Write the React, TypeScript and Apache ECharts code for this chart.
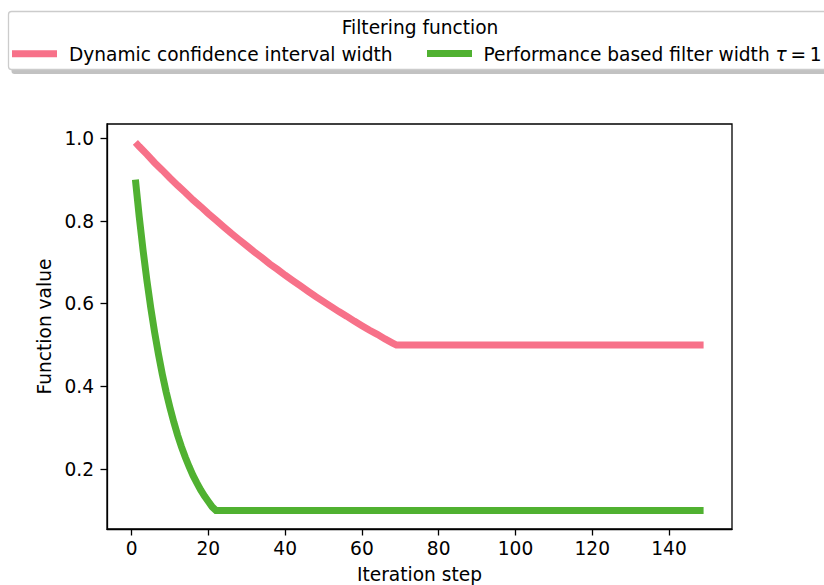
import React, { useEffect, useRef } from "react";
import * as echarts from "echarts";

const FONT = "DejaVu Sans";
const FS = 18.6;

const redX = [1, 2, 4, 6, 8, 10, 12, 14, 16, 18, 20, 22, 24, 26, 28, 30, 32, 34, 36, 38, 40, 42, 44, 46, 48, 50, 52, 54, 56, 58, 60, 62, 64, 66, 68, 69, 149];
const redY = [0.990, 0.980, 0.961, 0.941, 0.923, 0.904, 0.886, 0.869, 0.851, 0.835, 0.818, 0.802, 0.786, 0.770, 0.755, 0.740, 0.725, 0.711, 0.696, 0.683, 0.669, 0.656, 0.643, 0.630, 0.617, 0.605, 0.593, 0.581, 0.570, 0.558, 0.547, 0.536, 0.526, 0.515, 0.505, 0.500, 0.500];

const greenX = [1, 2, 3, 4, 5, 6, 7, 8, 9, 10, 11, 12, 13, 14, 15, 16, 17, 18, 19, 20, 21, 22, 149];
const greenY = [0.900, 0.810, 0.729, 0.656, 0.590, 0.531, 0.478, 0.430, 0.387, 0.349, 0.314, 0.282, 0.254, 0.229, 0.206, 0.185, 0.167, 0.150, 0.135, 0.122, 0.109, 0.100, 0.100];

const xTicks = [0, 20, 40, 60, 80, 100, 120, 140];
const yTicks = [0.2, 0.4, 0.6, 0.8, 1.0];

const seriesNames = ["Dynamic confidence interval width", "Performance based filter width"];
const legendTitle = "Filtering function";
const xName = "Iteration step";
const yName = "Function value";

const RED = "#f77189";
const GREEN = "#50b131";

export default function App() {
  const ref = useRef<HTMLDivElement>(null);
  useEffect(() => {
    if (!ref.current) return;
    const chart = echarts.init(ref.current, undefined, { renderer: "svg" });
    const zip = (xs: number[], ys: number[]) => xs.map((x, i) => [x, ys[i]]);
    chart.setOption({
      animation: false,
      textStyle: { fontFamily: FONT },
      grid: {
        left: 107,
        right: 92,
        top: 124,
        bottom: 56,
        containLabel: false,
        outerBoundsMode: "none",
        show: true,
        borderColor: "#000",
        borderWidth: 1.3,
        backgroundColor: "transparent",
      },
      xAxis: {
        type: "value",
        min: -6.4,
        max: 156.4,
        splitLine: { show: false },
        axisLine: { show: true, onZero: false, lineStyle: { color: "#000", width: 1.3 } },
        axisTick: { show: true, length: 6.5, customValues: xTicks, lineStyle: { color: "#000", width: 1.3 } },
        axisLabel: { customValues: xTicks, color: "#000", fontSize: FS, fontFamily: FONT, margin: 10 },
        name: xName,
        nameLocation: "middle",
        nameGap: 36,
        nameTextStyle: { color: "#000", fontSize: FS, fontFamily: FONT },
      },
      yAxis: {
        type: "value",
        min: 0.0555,
        max: 1.0345,
        splitLine: { show: false },
        axisLine: { show: true, onZero: false, lineStyle: { color: "#000", width: 1.3 } },
        axisTick: { show: true, length: 6.5, customValues: yTicks, lineStyle: { color: "#000", width: 1.3 } },
        axisLabel: {
          customValues: yTicks,
          color: "#000",
          fontSize: FS,
          fontFamily: FONT,
          margin: 13,
          formatter: (v: number) => v.toFixed(1),
        },
        name: yName,
        nameLocation: "middle",
        nameGap: 48,
        nameTextStyle: { color: "#000", fontSize: FS, fontFamily: FONT },
      },
      series: [
        {
          name: seriesNames[0],
          type: "line",
          data: zip(redX, redY),
          showSymbol: false,
          lineStyle: { color: RED, width: 7, cap: "butt", join: "miter" },
          itemStyle: { color: RED },
          z: 3,
        },
        {
          name: seriesNames[1],
          type: "line",
          data: zip(greenX, greenY),
          showSymbol: false,
          lineStyle: { color: GREEN, width: 7, cap: "butt", join: "miter" },
          itemStyle: { color: GREEN },
          z: 3,
        },
      ],
      graphic: [
        {
          type: "rect",
          shape: { x: 11.5, y: 15, width: 840, height: 59, r: 3 },
          style: { fill: "#999", opacity: 0.6 },
          z: 10,
        },
        {
          type: "rect",
          shape: { x: 8.5, y: 11.5, width: 840, height: 58, r: 3 },
          style: { fill: "#fff", stroke: "#cccccc", lineWidth: 1.3 },
          z: 11,
        },
        {
          type: "text",
          x: 420,
          y: 27,
          style: { text: legendTitle, fill: "#000", font: `${FS}px '${FONT}'`, align: "center", verticalAlign: "middle" },
          z: 12,
        },
        {
          type: "line",
          shape: { x1: 12, y1: 53.7, x2: 57, y2: 53.7 },
          style: { stroke: RED, lineWidth: 7 },
          z: 12,
        },
        {
          type: "text",
          x: 69,
          y: 54,
          style: { text: seriesNames[0], fill: "#000", font: `${FS}px '${FONT}'`, align: "left", verticalAlign: "middle" },
          z: 12,
        },
        {
          type: "line",
          shape: { x1: 427, y1: 53.5, x2: 472, y2: 53.5 },
          style: { stroke: GREEN, lineWidth: 7 },
          z: 12,
        },
        {
          type: "text",
          x: 483.5,
          y: 54,
          style: {
            text: seriesNames[1] + " {i|τ}{n|\u2009=\u20091}",
            fill: "#000",
            font: `${FS}px '${FONT}'`,
            align: "left",
            verticalAlign: "middle",
            rich: {
              i: { fontStyle: "italic", fontFamily: FONT, fontSize: FS, fill: "#000" },
              n: { fontFamily: FONT, fontSize: FS, fill: "#000" },
            },
          },
          z: 12,
        },
      ],
    });
    return () => chart.dispose();
  }, []);
  return <div ref={ref} style={{ width: 824, height: 585, position: "absolute", left: 0, top: 0 }} />;
}
